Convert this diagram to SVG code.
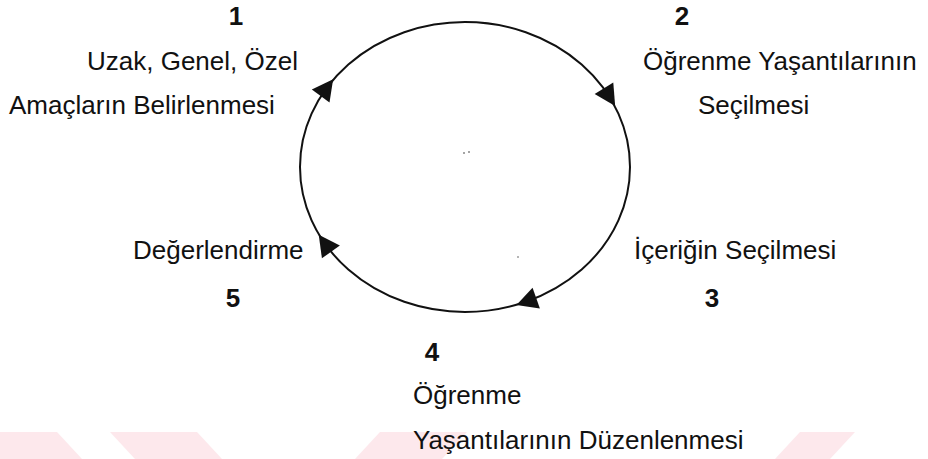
<svg xmlns="http://www.w3.org/2000/svg" xmlns:xlink="http://www.w3.org/1999/xlink" width="928" height="459" viewBox="0 0 928 459">
  <style>
    .lbl { font-family: "Liberation Sans", Arial, sans-serif; font-size: 26px; fill: #111; }
    .num { font-family: "Liberation Sans", Arial, sans-serif; font-size: 26px; font-weight: bold; fill: #111; text-anchor: middle; }
    .wm { fill: #fde8ec; }
    .ring { fill: none; stroke: #111; stroke-width: 2; }
    .head { fill: #111; }
  </style>
  <defs>
    <path id="ah" d="M11,0 L-10,-11 L-10,11 Z"/>
  </defs>
  <rect width="928" height="459" fill="#fff"/>
  <g id="watermark">
    <polygon class="wm" points="0,432 57,432 82,459 0,459"/>
    <polygon class="wm" points="110,432 197,432 222,459 135,459"/>
    <polygon class="wm" points="380,432 467,432 442,459 355,459"/>
    <polygon class="wm" points="800,432 855,432 830,459 775,459"/>
  </g>
  <g id="connectors">
    <ellipse class="ring" cx="465" cy="167" rx="165" ry="145"/>
    <use xlink:href="#ah" href="#ah" class="head" transform="translate(326.6,88) rotate(-53.5)"/>
    <use xlink:href="#ah" href="#ah" class="head" transform="translate(609.3,96.7) rotate(57.8)"/>
    <use xlink:href="#ah" href="#ah" class="head" transform="translate(526.8,301.4) rotate(160.5)"/>
    <use xlink:href="#ah" href="#ah" class="head" transform="translate(325.1,243.8) rotate(-125.4)"/>
  </g>
  <g id="node1">
    <text class="num" x="236" y="25">1</text>
    <text class="lbl" x="87" y="70">Uzak, Genel, Özel</text>
    <text class="lbl" x="9" y="114">Amaçların Belirlenmesi</text>
  </g>
  <g id="node2">
    <text class="num" x="682" y="25">2</text>
    <text class="lbl" x="643" y="70">Öğrenme Yaşantılarının</text>
    <text class="lbl" x="698" y="114">Seçilmesi</text>
  </g>
  <g id="node3">
    <text class="lbl" x="634" y="259">İçeriğin Seçilmesi</text>
    <text class="num" x="712" y="307">3</text>
  </g>
  <g id="node4">
    <text class="num" x="432" y="361">4</text>
    <text class="lbl" x="413" y="404">Öğrenme</text>
    <text class="lbl" x="413" y="449">Yaşantılarının Düzenlenmesi</text>
  </g>
  <g id="node5">
    <text class="lbl" x="133" y="259">Değerlendirme</text>
    <text class="num" x="233" y="307">5</text>
  </g>
  <g id="specks" fill="#333">
    <circle cx="464" cy="153" r="0.8"/>
    <circle cx="469" cy="152" r="0.8"/>
    <circle cx="518" cy="257" r="0.7"/>
  </g>
</svg>
